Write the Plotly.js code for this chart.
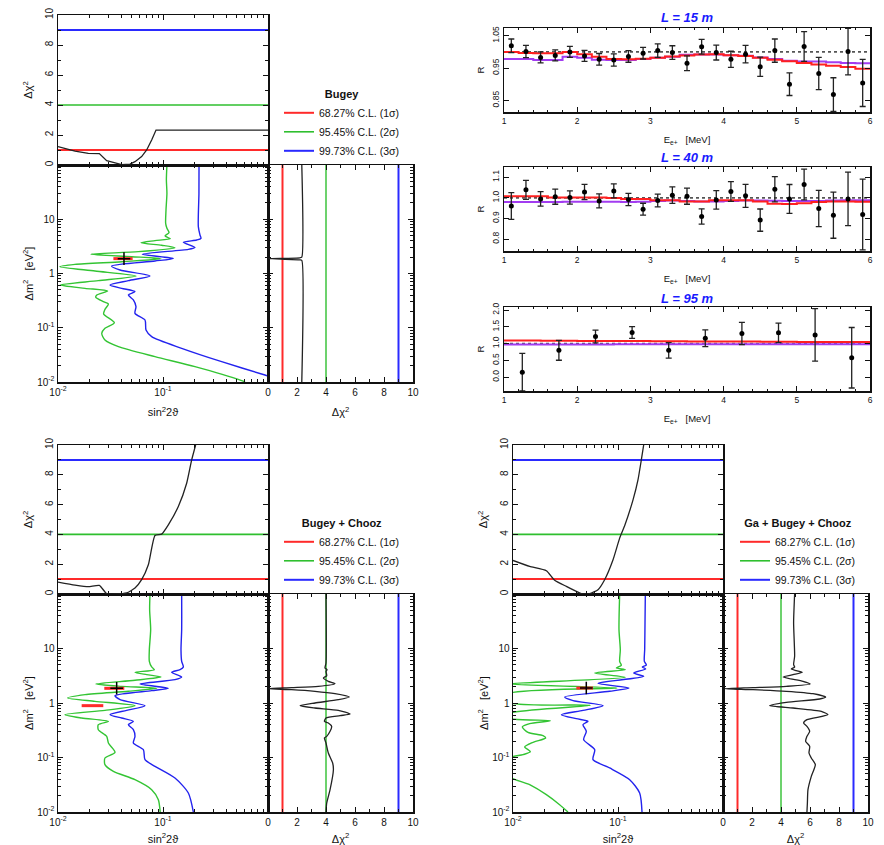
<!DOCTYPE html>
<html><head><meta charset="utf-8">
<script src="https://cdn.plot.ly/plotly-3.0.1.min.js"></script>
<style>html,body{margin:0;padding:0;background:#fff}#chart{width:884px;height:845px}</style>
</head><body><div id="chart"></div>
<script>
// ---------- confidence levels ----------
const clLevels = [1, 4, 9];
const clNames = ['68.27% C.L. (1σ)', '95.45% C.L. (2σ)', '99.73% C.L. (3σ)'];
const clColors = ['#ff2a2a', '#2fbf2f', '#2a2aff'];

// ---------- Group 1: Bugey ----------
const g1GreenS = [0.109,0.1077,0.109,0.1068,0.106,0.109,0.1141,0.1045,0.1174,0.0839,0.0617,0.0971,0.130,0.0582,0.0206,0.0503,0.0957,0.0404,0.0145,0.0104,0.0225,0.0553,0.0242,0.0105,0.0181,0.0297,0.0234,0.0229,0.0270,0.0302,0.0280,0.0272,0.0344,0.0280,0.0261,0.0280,0.0376,0.0839,0.2017,0.561,0.604];
const g1GreenDm = [100,52.9,30.1,14.8,8.41,6.80,5.66,4.91,4.39,4.03,3.70,3.31,2.99,2.53,2.26,2.04,1.88,1.65,1.476,1.336,1.112,0.899,0.738,0.614,0.533,0.476,0.402,0.364,0.303,0.274,0.218,0.179,0.124,0.0976,0.0789,0.0594,0.0448,0.0293,0.0192,0.0106,0.01];
const g1BlueS = [0.2203,0.220,0.217,0.225,0.230,0.209,0.1562,0.2017,0.1743,0.0636,0.1254,0.0839,0.0324,0.0390,0.0752,0.0468,0.0313,0.0404,0.0541,0.0468,0.0522,0.0553,0.0541,0.0674,0.0689,0.078,0.1506,0.362,0.935,1.05];
const g1BlueDm = [100,30.1,7.30,5.13,4.45,4.14,3.75,3.03,2.79,2.26,1.90,1.70,1.374,1.160,0.899,0.738,0.614,0.533,0.463,0.402,0.325,0.245,0.184,0.139,0.0909,0.0685,0.0418,0.0237,0.01346,0.0125];
const g1ChiS = [0.01,0.01452,0.01945,0.02475,0.02908,0.0337,0.0404,0.0485,0.0541,0.0626,0.0699,0.078,0.0858,1.0];
const g1ChiV = [1.22,0.93,0.78,0.76,0.29,0.16,0.03,0.06,0.22,0.56,1.0,1.67,2.33,2.33];
const g1ProfV = [2.33,2.33,2.2,0.02,2.2,2.33,2.33];
const g1ProfDm = [100,2.0,1.95,1.88,1.78,1.74,0.01];
const g1BestS = [0.0425], g1BestDm = [1.88], g1BestLo = [0.0337], g1BestHi = [0.0514];

// ---------- Group 2: Bugey + Chooz ----------
const g2GreenS = [0.0752,0.0746,0.0763,0.0741,0.0741,0.078,0.0827,0.0541,0.0699,0.0957,0.0541,0.0229,0.0404,0.0871,0.0468,0.0181,0.01236,0.0225,0.0541,0.028,0.01166,0.0168,0.0302,0.0242,0.0242,0.0291,0.0302,0.0349,0.028,0.028,0.0337,0.0541,0.078,0.0903,0.094];
const g2GreenDm = [100,51.6,22.2,9.52,5.81,4.58,4.09,3.65,3.31,3.00,2.61,2.23,2.02,1.86,1.64,1.422,1.235,1.073,0.894,0.733,0.611,0.531,0.461,0.400,0.324,0.2445,0.1845,0.1244,0.0979,0.0739,0.0557,0.0392,0.0257,0.01684,0.01];
const g2BlueS = [0.1506,0.1506,0.1484,0.1506,0.1562,0.1452,0.1209,0.1506,0.13,0.0604,0.1124,0.078,0.0349,0.039,0.0674,0.0451,0.0313,0.0404,0.0522,0.0468,0.0522,0.0541,0.0522,0.065,0.0674,0.0839,0.13,0.1743,0.1945];
const g2BlueDm = [100,22.2,9.52,5.81,4.58,4.09,3.65,3.00,2.68,2.23,1.86,1.684,1.363,1.151,0.894,0.733,0.611,0.531,0.461,0.400,0.324,0.2445,0.1845,0.139,0.0912,0.0689,0.0421,0.0223,0.01];
const g2ChiS = [0.01,0.01452,0.01945,0.02475,0.02908,0.0349,0.0451,0.0541,0.0626,0.0725,0.0839,0.0971,0.1124,0.140,0.168,0.1875,0.2046];
const g2ChiV = [0.80,0.60,0.49,0.58,0.02,0.0,0.07,0.4,0.96,1.96,3.93,4.02,4.64,5.87,7.43,9.0,10.0];
const g2ProfV = [4.0,4.05,4.28,4.51,4.46,4.16,4.0,3.89,4.05,4.28,4.39,4.16,3.89,4.0,4.97,5.66,4.85,3.24,2.21,3.24,4.85,5.61,4.62,3.24,1.63,0.02,1.63,3.47,4.62,4.16,3.82,4.05,4.0,4.07,3.93,4.0,4.0];
const g2ProfDm = [0.01,0.01463,0.0257,0.0598,0.0793,0.1209,0.1845,0.228,0.2445,0.302,0.373,0.430,0.461,0.531,0.586,0.628,0.733,0.810,0.894,1.0,1.151,1.289,1.483,1.64,1.757,1.832,1.911,2.02,2.26,2.50,2.87,3.17,3.81,4.09,4.39,5.42,100];
const g2BestS = [0.0362], g2BestDm = [1.86], g2BestLo = [0.0276], g2BestHi = [0.0428];
const g2LocalDm = [0.894], g2LocalLo = [0.0168], g2LocalHi = [0.0270];

// ---------- Group 3: Ga + Bugey + Chooz ----------
const g3GreenS = [0.1037,0.1022,0.1052,0.1037,0.1076,0.0964,0.1174,0.06,0.1174,0.009,0.0978,0.009,0.009,0.0545,0.009,0.009,0.02268,0.01441,0.01227,0.01389,0.01931,0.02047,0.0155,0.01292,0.01463,0.01245,0.009,0.009,0.01441,0.02078,0.0278,0.0334];
const g3GreenDm = [100,22.2,9.52,5.81,4.91,4.39,4.09,3.55,2.96,2.23,1.88,1.463,1.028,0.906,0.637,0.531,0.474,0.418,0.363,0.290,0.2517,0.228,0.190,0.156,0.128,0.1127,0.096,0.046,0.0317,0.0208,0.01363,0.01];
const g3BlueS = [0.1821,0.1808,0.1795,0.1782,0.1862,0.1704,0.1835,0.141,0.1756,0.0645,0.1273,0.0833,0.0311,0.0373,0.072,0.0464,0.0289,0.0401,0.0518,0.0464,0.0499,0.0471,0.06,0.0578,0.0833,0.1292,0.1608,0.1693];
const g3BlueDm = [100,29.4,9.52,5.81,4.98,4.58,4.21,3.55,3.08,2.30,1.88,1.64,1.289,1.104,0.894,0.733,0.611,0.516,0.461,0.400,0.302,0.2125,0.139,0.0912,0.0642,0.0392,0.0223,0.01];
const g3ChiS = [0.01,0.01441,0.02078,0.02493,0.0322,0.0401,0.0448,0.0537,0.0645,0.0746,0.0897,0.1037,0.1157,0.139,0.155,0.1668,0.1756];
const g3ChiV = [2.25,1.85,1.56,0.92,0.51,0.18,0.02,0.02,0.29,0.96,2.30,3.75,4.58,6.32,7.66,9.0,10.0];
const g3ProfV = [5.79,5.82,5.86,6.09,6.37,6.09,5.93,5.98,5.70,5.79,5.98,5.79,5.56,5.79,7.24,6.78,4.83,3.22,4.37,6.67,7.08,6.21,4.37,2.07,0.11,2.07,4.37,6.02,5.52,4.14,4.83,5.47,5.06,4.71,4.94,4.87,4.94,4.87,4.94];
const g3ProfDm = [0.01,0.01463,0.0257,0.0451,0.0739,0.0979,0.1209,0.1603,0.198,0.2445,0.302,0.373,0.430,0.494,0.611,0.703,0.810,0.894,1.028,1.184,1.289,1.483,1.64,1.757,1.832,1.911,2.02,2.23,2.50,3.00,3.31,3.65,3.92,4.21,4.58,5.05,7.18,29.4,100];
const g3BestS = [0.0499], g3BestDm = [1.88], g3BestLo = [0.0401], g3BestHi = [0.0578];

// ---------- Bugey spectra ratio data ----------
const E02 = [1.1,1.3,1.5,1.7,1.9,2.1,2.3,2.5,2.7,2.9,3.1,3.3,3.5,3.7,3.9,4.1,4.3,4.5,4.7,4.9,5.1,5.3,5.5,5.7,5.9];
const edges02 = [1.0,1.2,1.4,1.6,1.8,2.0,2.2,2.4,2.6,2.8,3.0,3.2,3.4,3.6,3.8,4.0,4.2,4.4,4.6,4.8,5.0,5.2,5.4,5.6,5.8,6.0];
const R15 = [1.019,1.001,0.983,0.989,1.0,0.9875,0.977,0.975,0.986,0.996,1.004,0.998,0.965,1.016,0.998,0.977,0.993,0.954,1.004,0.90,1.017,0.933,0.868,1.001,0.904];
const Err15 = [0.021,0.019,0.017,0.017,0.017,0.017,0.018,0.019,0.018,0.018,0.021,0.021,0.023,0.023,0.023,0.025,0.027,0.030,0.036,0.035,0.046,0.050,0.052,0.072,0.073];
const Red15 = [1.0,0.997,0.996,0.996,1.0,0.993,0.985,0.978,0.977,0.979,0.982,0.986,0.989,0.992,0.993,0.990,0.987,0.982,0.976,0.971,0.966,0.961,0.957,0.953,0.948];
const Purple15 = [0.978,0.978,0.975,0.975,0.985,0.982,0.976,0.975,0.975,0.978,0.982,0.985,0.991,0.992,0.992,0.990,0.988,0.983,0.978,0.973,0.970,0.970,0.968,0.966,0.965];
const R40 = [0.961,1.039,0.995,1.006,1.002,1.029,0.985,1.034,0.992,0.945,0.987,1.013,1.008,0.910,0.990,1.031,1.010,0.892,1.042,0.995,1.065,0.948,0.916,0.995,0.919];
const Err40 = [0.065,0.046,0.035,0.037,0.032,0.037,0.034,0.034,0.030,0.029,0.031,0.040,0.039,0.037,0.045,0.048,0.056,0.054,0.061,0.070,0.075,0.088,0.112,0.130,0.172];
const Red40 = [1.008,1.008,1.008,1.002,1.002,1.002,1.002,1.0,0.995,0.994,0.989,0.989,0.983,0.982,0.988,0.989,0.989,0.982,0.972,0.970,0.974,0.980,0.982,0.982,0.981];
const Purple40 = [0.980,0.980,0.980,0.980,0.981,0.981,0.981,0.981,0.980,0.981,0.985,0.987,0.985,0.983,0.983,0.985,0.987,0.987,0.986,0.985,0.985,0.985,0.987,0.988,0.988];
const E05 = [1.25,1.75,2.25,2.75,3.25,3.75,4.25,4.75,5.25,5.75];
const edges05 = [1.0,1.5,2.0,2.5,3.0,3.5,4.0,4.5,5.0,5.5,6.0];
const R95 = [0.15,0.80,1.21,1.33,0.80,1.16,1.30,1.32,1.26,0.58];
const Err95 = [0.56,0.295,0.19,0.175,0.23,0.25,0.33,0.29,0.78,0.90];
const Red95 = [1.09,1.085,1.08,1.075,1.07,1.065,1.06,1.055,1.05,1.05];
const Purple95 = [0.975,0.975,0.977,0.978,0.978,0.978,0.978,0.978,0.978,0.978];
const panelTitles = ['L = 15 m', 'L = 40 m', 'L = 95 m'];
const legendTitles = ['Bugey', 'Bugey + Chooz', 'Ga + Bugey + Chooz'];

// ---------- helpers ----------
const W = 884, H = 845;
const dX = (a, b) => [a / W, b / W];
const dY = (t, b) => [1 - b / H, 1 - t / H];
const minorLog = [];
[-2, -1, 0, 1].forEach(k => { for (let m = 2; m <= 9; m++) minorLog.push(+(m * Math.pow(10, k)).toPrecision(3)); });
const minLog = {tickvals: minorLog, ticks: 'inside', ticklen: 3, tickcolor: '#111'};
const base = {showline: true, linecolor: '#111', linewidth: 1.5, mirror: 'allticks', ticks: 'inside',
  ticklen: 5, tickwidth: 1, tickcolor: '#111', showgrid: false, zeroline: false,
  tickfont: {size: 10, color: '#111'}, fixedrange: true};
const ax = o => Object.assign({}, base, o);
const pow10Text = ['10<sup>-2</sup>', '10<sup>-1</sup>', '1', '10'];

const traces = [];
function addGroup(k, green, blue, chi, prof, best, legendId, extraBars, chiShape) {
  const xm = k === 0 ? 'x' : 'x' + (3 * k + 1), ym = k === 0 ? 'y' : 'y' + (3 * k + 1);
  const xt = 'x' + (3 * k + 2), yt = 'y' + (3 * k + 2);
  const xr = 'x' + (3 * k + 3), yr = 'y' + (3 * k + 3);
  clLevels.forEach((lv, i) => {
    traces.push({type: 'scatter', mode: 'lines', x: [0.01, 1], y: [lv, lv], xaxis: xt, yaxis: yt,
      line: {color: clColors[i], width: i === 1 ? 1.6 : 2}, name: clNames[i], legend: legendId,
      showlegend: true, hoverinfo: 'skip'});
    traces.push({type: 'scatter', mode: 'lines', x: [lv, lv], y: [0.01, 100], xaxis: xr, yaxis: yr,
      line: {color: clColors[i], width: i === 1 ? 1.4 : 2}, showlegend: false, hoverinfo: 'skip'});
  });
  traces.push({type: 'scatter', mode: 'lines', x: chi[0], y: chi[1], xaxis: xt, yaxis: yt,
    line: {color: '#222', width: 1.3, shape: chiShape, smoothing: 0.5}, showlegend: false, hoverinfo: 'skip'});
  traces.push({type: 'scatter', mode: 'lines', x: prof[0], y: prof[1], xaxis: xr, yaxis: yr,
    line: {color: '#222', width: 1.3, shape: 'spline', smoothing: 0.6}, showlegend: false, hoverinfo: 'skip'});
  traces.push({type: 'scatter', mode: 'lines', x: green[0], y: green[1], xaxis: xm, yaxis: ym,
    line: {color: '#33c433', width: 1.4, shape: 'spline', smoothing: 0.7}, showlegend: false, hoverinfo: 'skip'});
  traces.push({type: 'scatter', mode: 'lines', x: blue[0], y: blue[1], xaxis: xm, yaxis: ym,
    line: {color: '#2323ee', width: 1.4, shape: 'spline', smoothing: 0.7}, showlegend: false, hoverinfo: 'skip'});
  (extraBars || []).forEach(b => {
    traces.push({type: 'scatter', mode: 'lines', x: [b[1][0], b[2][0]], y: [b[0][0], b[0][0]], xaxis: xm, yaxis: ym,
      line: {color: '#ff2a2a', width: 3}, showlegend: false, hoverinfo: 'skip'});
  });
  traces.push({type: 'scatter', mode: 'lines', x: [best[2][0], best[3][0]], y: [best[1][0], best[1][0]], xaxis: xm, yaxis: ym,
    line: {color: '#ff2a2a', width: 3}, showlegend: false, hoverinfo: 'skip'});
  traces.push({type: 'scatter', mode: 'markers', x: best[0], y: best[1], xaxis: xm, yaxis: ym,
    marker: {symbol: 'cross-thin-open', size: 9, color: '#000', line: {color: '#000', width: 1.5}},
    showlegend: false, hoverinfo: 'skip'});
}
addGroup(0, [g1GreenS, g1GreenDm], [g1BlueS, g1BlueDm], [g1ChiS, g1ChiV], [g1ProfV, g1ProfDm],
  [g1BestS, g1BestDm, g1BestLo, g1BestHi], 'legend', [], 'linear');
addGroup(1, [g2GreenS, g2GreenDm], [g2BlueS, g2BlueDm], [g2ChiS, g2ChiV], [g2ProfV, g2ProfDm],
  [g2BestS, g2BestDm, g2BestLo, g2BestHi], 'legend2', [[g2LocalDm, g2LocalLo, g2LocalHi]], 'spline');
addGroup(2, [g3GreenS, g3GreenDm], [g3BlueS, g3BlueDm], [g3ChiS, g3ChiV], [g3ProfV, g3ProfDm],
  [g3BestS, g3BestDm, g3BestLo, g3BestHi], 'legend3', [], 'spline');

// spectra panels
const stepY = v => v.concat([v[v.length - 1]]);
const spectra = [
  [E02, edges02, R15, Err15, Red15, Purple15],
  [E02, edges02, R40, Err40, Red40, Purple40],
  [E05, edges05, R95, Err95, Red95, Purple95]
];
spectra.forEach((p, i) => {
  const xa = 'x' + (10 + i), ya = 'y' + (10 + i);
  traces.push({type: 'scatter', mode: 'lines', x: [1, 6], y: [1, 1], xaxis: xa, yaxis: ya,
    line: {color: '#555', width: 1.6, dash: 'dot'}, showlegend: false, hoverinfo: 'skip'});
  traces.push({type: 'scatter', mode: 'lines', x: p[1], y: stepY(p[5]), xaxis: xa, yaxis: ya,
    line: {color: '#a23cf0', width: 2, shape: 'hv'}, showlegend: false, hoverinfo: 'skip'});
  traces.push({type: 'scatter', mode: 'lines', x: p[1], y: stepY(p[4]), xaxis: xa, yaxis: ya,
    line: {color: '#ff2020', width: 2, shape: 'hv'}, showlegend: false, hoverinfo: 'skip'});
  traces.push({type: 'scatter', mode: 'markers', x: p[0], y: p[2], xaxis: xa, yaxis: ya,
    error_y: {type: 'data', array: p[3], visible: true, color: '#222', thickness: 1.3, width: 3},
    marker: {color: '#000', size: 5}, showlegend: false, hoverinfo: 'skip', cliponaxis: true});
});

// ---------- layout ----------
const layout = {width: W, height: H, margin: {l: 0, r: 0, t: 0, b: 0}, paper_bgcolor: '#fff', plot_bgcolor: '#fff',
  font: {family: 'Liberation Sans, Arial, sans-serif', color: '#111', size: 11}, showlegend: true, annotations: []};

const groups = [
  {xl: 58, xm: 268, xr: 413, top: 15, mid: 165, bot: 382},
  {xl: 58, xm: 268, xr: 413, top: 445, mid: 594, bot: 812},
  {xl: 513, xm: 723, xr: 868, top: 445, mid: 594, bot: 812}
];
groups.forEach((g, k) => {
  const n1 = k === 0 ? '' : String(3 * k + 1), n2 = String(3 * k + 2), n3 = String(3 * k + 3);
  layout['xaxis' + n1] = ax({domain: dX(g.xl, g.xm), anchor: 'y' + n1, type: 'log', range: [-2, 0],
    tickvals: [0.01, 0.1], ticktext: pow10Text.slice(0, 2), minor: minLog,
    title: {text: 'sin<sup>2</sup>2ϑ', font: {size: 11}, standoff: 12}});
  layout['yaxis' + n1] = ax({domain: dY(g.mid, g.bot), anchor: 'x' + n1, type: 'log', range: [-2, 2],
    tickvals: [0.01, 0.1, 1, 10], ticktext: pow10Text, minor: minLog,
    title: {text: 'Δm<sup>2</sup>   [eV<sup>2</sup>]', font: {size: 11}, standoff: 1}});
  layout['xaxis' + n2] = ax({domain: dX(g.xl, g.xm), anchor: 'y' + n2, type: 'log', range: [-2, 0],
    tickvals: [0.01, 0.1, 1], showticklabels: false, minor: minLog});
  layout['yaxis' + n2] = ax({domain: dY(g.top, g.mid), anchor: 'x' + n2, range: [0, 10], dtick: 2, tickangle: -90,
    minor: {dtick: 1, ticks: 'inside', ticklen: 3, tickcolor: '#111'},
    title: {text: 'Δχ<sup>2</sup>', font: {size: 11}, standoff: 8}});
  layout['xaxis' + n3] = ax({domain: dX(g.xm, g.xr), anchor: 'y' + n3, range: [0, 10], dtick: 2,
    minor: {dtick: 1, ticks: 'inside', ticklen: 3, tickcolor: '#111'},
    title: {text: 'Δχ<sup>2</sup>', font: {size: 11}, standoff: 12}});
  layout['yaxis' + n3] = ax({domain: dY(g.mid, g.bot), anchor: 'x' + n3, type: 'log', range: [-2, 2],
    tickvals: [0.01, 0.1, 1, 10], showticklabels: false, minor: minLog});
});

const spec = [
  {top: 28, bot: 112, range: [0.814, 1.074], tv: [0.85, 0.95, 1.05], fmt: '.2f', tt: 17},
  {top: 167, bot: 251, range: [0.742, 1.15], tv: [0.8, 0.9, 1.0, 1.1], fmt: '.1f', tt: 158},
  {top: 307, bot: 391, range: [-0.41, 2.09], tv: [0, 0.5, 1.0, 1.5, 2.0], fmt: '.1f', tt: 298}
];
spec.forEach((s, i) => {
  const n = String(10 + i);
  layout['xaxis' + n] = ax({domain: dX(504, 870), anchor: 'y' + n, range: [1, 6], dtick: 1,
    tickfont: {size: 8.5, color: '#111'}, minor: {dtick: 0.2, ticks: 'inside', ticklen: 2, tickcolor: '#111'},
    title: {text: 'E<sub>e+</sub>   [MeV]', font: {size: 9.5}, standoff: 11}});
  layout['yaxis' + n] = ax({domain: dY(s.top, s.bot), anchor: 'x' + n, range: s.range, tickvals: s.tv,
    tickformat: s.fmt, tickangle: -90, tickfont: {size: 8.5, color: '#111'},
    title: {text: 'R', font: {size: 9.5}, standoff: 5}});
  layout.annotations.push({text: '<b><i>' + panelTitles[i] + '</i></b>', xref: 'paper', yref: 'paper',
    x: 687 / W, y: 1 - s.tt / H, xanchor: 'center', yanchor: 'middle', showarrow: false,
    font: {size: 13, color: '#1a1aff'}});
});

const legPos = [[279, 84], [279, 513], [735, 513]];
['legend', 'legend2', 'legend3'].forEach((id, i) => {
  layout[id] = {x: legPos[i][0] / W, y: 1 - legPos[i][1] / H, xanchor: 'left', yanchor: 'top',
    bgcolor: 'rgba(0,0,0,0)', borderwidth: 0, font: {size: 10.5, color: '#111'}, tracegroupgap: 0,
    title: {text: '<b>' + legendTitles[i] + '</b>', side: 'top center', font: {size: 11}}};
});

Plotly.newPlot('chart', traces, layout, {staticPlot: true, displayModeBar: false});
</script></body></html>
